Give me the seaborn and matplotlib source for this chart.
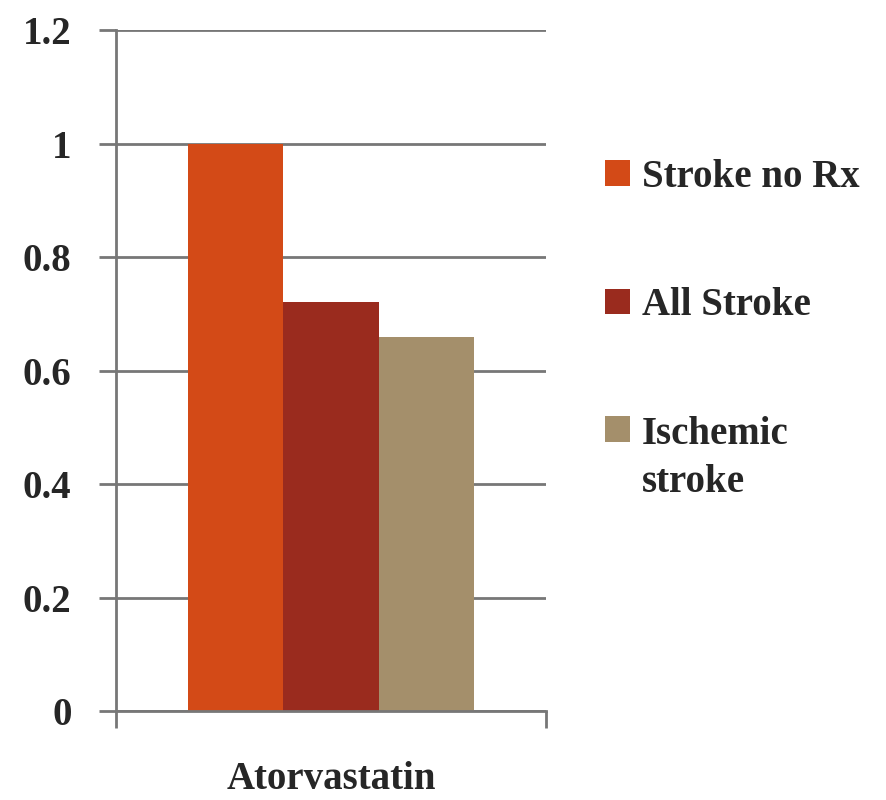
import matplotlib
matplotlib.use("Agg")
import matplotlib.pyplot as plt
from matplotlib.patches import Rectangle
from matplotlib.legend_handler import HandlerPatch
import seaborn as sns
import pandas as pd

# chart data
drugs = ["Atorvastatin"]
outcomes = ["Stroke no Rx", "All Stroke", "Ischemic\nstroke"]
values = [1.0, 0.72, 0.66]
colors = ["#D34A17", "#9A2B1E", "#A48F6B"]
y_ticks = [0, 0.2, 0.4, 0.6, 0.8, 1.0, 1.2]
y_tick_labels = ["0", "0.2", "0.4", "0.6", "0.8", "1", "1.2"]

df = pd.DataFrame({
    "drug": drugs * len(outcomes),
    "outcome": outcomes,
    "value": values,
})

sns.set_style("white")
plt.rcParams["font.family"] = ["Liberation Serif", "DejaVu Serif"]
plt.rcParams["font.weight"] = "bold"

fig = plt.figure(figsize=(8.86, 8.0), dpi=100)
ax = fig.add_axes([0.131, 0.111, 0.485, 0.8515])

sns.barplot(data=df, x="drug", y="value", hue="outcome", hue_order=outcomes,
            palette=colors, width=0.667, saturation=1, linewidth=0, ax=ax)

ax.set_xlim(-0.5, 0.5)
ax.set_ylim(0, 1.2)
ax.set_yticks(y_ticks)
ax.set_yticklabels(y_tick_labels, fontsize=28, fontweight="bold")
ax.set_xticks([0])
ax.set_xticklabels(drugs, fontsize=28, fontweight="bold")
ax.set_xticks([-0.5, 0.5], minor=True)
ax.tick_params(axis="x", which="major", bottom=True, length=0, pad=36)
ax.tick_params(axis="x", which="minor", bottom=True, length=12, width=2,
               color="#777777", direction="out")
ax.tick_params(axis="y", left=True, length=12, width=2, color="#777777",
               direction="out", pad=20)
ax.set_xlabel("")
ax.set_ylabel("")

ax.grid(axis="y", color="#777777", linewidth=2)
ax.set_axisbelow(True)
for side in ["top", "right"]:
    ax.spines[side].set_visible(False)
for side in ["left", "bottom"]:
    ax.spines[side].set_color("#777777")
    ax.spines[side].set_linewidth(2)


def raised_box(legend, orig_handle, xdescent, ydescent, width, height, fontsize):
    # keep the swatch level with the first line of a wrapped label
    return Rectangle((-xdescent, -ydescent + 21), width, height)


handles, labels = ax.get_legend_handles_labels()
leg = ax.legend(handles, labels, loc="upper left", bbox_to_anchor=(0.665, 0.821),
                bbox_transform=fig.transFigure, frameon=False,
                prop={"weight": "bold", "size": 28}, handlelength=0.65, handleheight=0.65,
                handletextpad=0.3, labelspacing=2.35, borderaxespad=0,
                handler_map={handles[2]: HandlerPatch(patch_func=raised_box)})
for t in leg.get_texts():
    t.set_linespacing(1.4)

fig.savefig("out.png", dpi=100)
